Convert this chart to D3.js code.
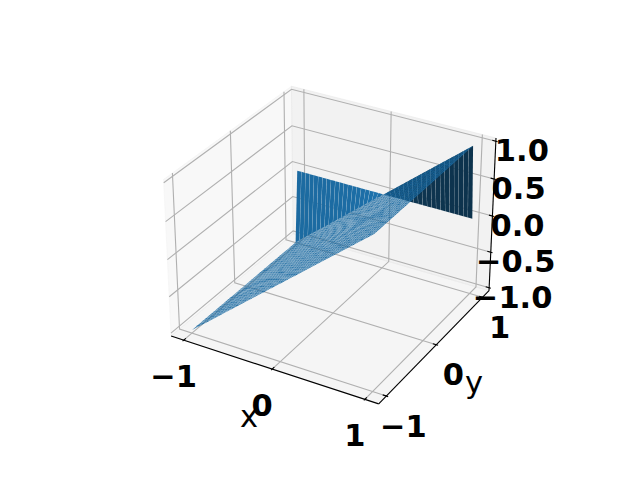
<!DOCTYPE html>
<html><head><meta charset="utf-8">
<script src="https://cdn.jsdelivr.net/npm/d3@7"></script>
<style>html,body{margin:0;padding:0;background:#fff}svg{display:block}text{font-family:"DejaVu Sans"}</style>
</head><body><script>
const xGrid=[-1,-0.95,-0.9,-0.85,-0.8,-0.75,-0.7,-0.65,-0.6,-0.55,-0.5,-0.45,-0.4,-0.35,-0.3,-0.25,-0.2,-0.15,-0.1,-0.05,0,0.05,0.1,0.15,0.2,0.25,0.3,0.35,0.4,0.45,0.5,0.55,0.6,0.65,0.7,0.75,0.8,0.85,0.9,0.95,1];
const yGrid=[-1,-0.95,-0.9,-0.85,-0.8,-0.75,-0.7,-0.65,-0.6,-0.55,-0.5,-0.45,-0.4,-0.35,-0.3,-0.25,-0.2,-0.15,-0.1,-0.05,0,0.05,0.1,0.15,0.2,0.25,0.3,0.35,0.4,0.45,0.5,0.55,0.6,0.65,0.7,0.75,0.8,0.85,0.9,0.95,1];
const zSheet=[-1,-0.95,-0.9,-0.85,-0.8,-0.75,-0.7,-0.65,-0.6,-0.55,-0.5,-0.45,-0.4,-0.35,-0.3,-0.25,-0.2,-0.15,-0.1,-0.05,0,0.05,0.1,0.15,0.2,0.25,0.3,0.35,0.4,0.45,0.5,0.55,0.6,0.65,0.7,0.75,0.8,0.85,0.9,0.95,1];
const zBack=[0,0,0,0,0,0,0,0,0,0,0,0,0,0,0,0,0,0,0,0,0,0,0,0,0,0,0,0,0,0,0,0,0,0,0,0,0,0,0,0,0];
const xTicks=[-1,0,1], yTicks=[-1,0,1], zTicks=[-1,-0.5,0,0.5,1];
const zTickLabels=["\u22121.0","\u22120.5","0.0","0.5","1.0"], xyTickLabels=["\u22121","0","1"];
const limX=[-1.1,1.1], limY=[-1.1,1.1], limZ=[-1,1];

const W=640,H=480;
const svg=d3.select("body").append("svg").attr("width",W).attr("height",H);
const ext=l=>{const d=(l[1]-l[0])/12;return [l[0]-d/4,l[1]+d/4];};
const PX=ext(limX),PY=ext(limY),PZ=ext(limZ);
const norm=Math.hypot(4,4,3),k=1.8294640721620434/norm;
const box=[4*k,4*k,3*k];
const sx=d3.scaleLinear().domain(limX).range([0,box[0]]);
const sy=d3.scaleLinear().domain(limY).range([0,box[1]]);
const sz=d3.scaleLinear().domain(limZ).range([0,box[2]]);
const elev=30*Math.PI/180,azim=-60*Math.PI/180,dist=10;
const R=box.map(b=>b/2);
const dirv=[Math.cos(elev)*Math.cos(azim),Math.cos(elev)*Math.sin(azim),Math.sin(elev)];
const cross=(a,b)=>[a[1]*b[2]-a[2]*b[1],a[2]*b[0]-a[0]*b[2],a[0]*b[1]-a[1]*b[0]];
const dot=(a,b)=>a[0]*b[0]+a[1]*b[1]+a[2]*b[2];
const unit=a=>{const n=Math.hypot(...a);return a.map(v=>v/n);};
const w=dirv,u=unit(cross([0,0,1],w)),v=cross(w,u);
const px=d3.scaleLinear().domain([-0.095,0.09]).range([143.2,512.8]);
const py=d3.scaleLinear().domain([-0.095,0.09]).range([427.2,57.6]);
function proj(x,y,z){
  const p=[sx(x)-R[0],sy(y)-R[1],sz(z)-R[2]];
  const a=dot(p,u),b=dot(p,v),c=dot(p,w);
  const den=dist-c;
  return {x:px(a/den),y:py(b/den),d:c};
}
const line=d3.line().x(d=>d.x).y(d=>d.y);
const pt=a=>proj(a[0],a[1],a[2]);
const poly=(pts)=>line(pts.map(pt))+"Z";

const g=svg.append("g");
g.append("path").attr("d",poly([[PX[0],PY[0],PZ[0]],[PX[0],PY[1],PZ[0]],[PX[0],PY[1],PZ[1]],[PX[0],PY[0],PZ[1]]])).attr("fill","rgb(242,242,242)").attr("fill-opacity",0.5).attr("stroke","rgb(242,242,242)").attr("stroke-opacity",.5);
g.append("path").attr("d",poly([[PX[0],PY[1],PZ[0]],[PX[1],PY[1],PZ[0]],[PX[1],PY[1],PZ[1]],[PX[0],PY[1],PZ[1]]])).attr("fill","rgb(230,230,230)").attr("fill-opacity",0.5).attr("stroke","rgb(230,230,230)").attr("stroke-opacity",.5);
g.append("path").attr("d",poly([[PX[0],PY[0],PZ[0]],[PX[1],PY[0],PZ[0]],[PX[1],PY[1],PZ[0]],[PX[0],PY[1],PZ[0]]])).attr("fill","rgb(236,236,236)").attr("fill-opacity",0.5).attr("stroke","rgb(236,236,236)").attr("stroke-opacity",.5);

const gl=(pts)=>g.append("path").attr("d",line(pts.map(pt))).attr("fill","none").attr("stroke","#b0b0b0").attr("stroke-width",1.11);
xTicks.forEach(t=>gl([[t,PY[0],PZ[0]],[t,PY[1],PZ[0]],[t,PY[1],PZ[1]]]));
yTicks.forEach(t=>gl([[PX[1],t,PZ[0]],[PX[0],t,PZ[0]],[PX[0],t,PZ[1]]]));
zTicks.forEach(t=>gl([[PX[0],PY[0],t],[PX[0],PY[1],t],[PX[1],PY[1],t]]));

const al=(pts)=>g.append("path").attr("d",line(pts.map(pt))).attr("fill","none").attr("stroke","#000").attr("stroke-width",1.11);
al([[PX[0],PY[0],PZ[0]],[PX[1],PY[0],PZ[0]]]);
al([[PX[1],PY[0],PZ[0]],[PX[1],PY[1],PZ[0]]]);
al([[PX[1],PY[1],PZ[0]],[PX[1],PY[1],PZ[1]]]);
const dY=(PY[1]-PY[0])/12,dX=(PX[1]-PX[0])/12;
xTicks.forEach(t=>al([[t,PY[0]+0.2*dY,PZ[0]],[t,PY[0]-0.1*dY,PZ[0]]]));
yTicks.forEach(t=>al([[PX[1]-0.2*dX,t,PZ[0]],[PX[1]+0.1*dX,t,PZ[0]]]));
zTicks.forEach(t=>al([[PX[1]-0.2*dX,PY[1],t],[PX[1]+0.1*dX,PY[1],t]]));

const label=(txt,p,off,size,weight)=>svg.append("text").attr("x",p.x+off[0]).attr("y",p.y+off[1]).attr("text-anchor","middle").attr("dominant-baseline","central").attr("font-size",size).attr("font-weight",weight).attr("fill","#000").text(txt);
const fs=30.5;
const zLabelDx=[23.5,25,25,24.5,26];
xTicks.forEach((t,i)=>label(xyTickLabels[i],proj(t,PY[0],PZ[0]),[-10,36],fs,"bold"));
yTicks.forEach((t,i)=>label(xyTickLabels[i],proj(PX[1],t,PZ[0]),[17,30],fs,"bold"));
zTicks.forEach((t,i)=>label(zTickLabels[i],proj(PX[1],PY[1],t),[zLabelDx[i],9.5],fs,"bold"));
svg.append("text").attr("x",249).attr("y",416).attr("text-anchor","middle").attr("dominant-baseline","central").attr("font-size",30.5).text("x");
svg.append("text").attr("x",474).attr("y",382).attr("text-anchor","middle").attr("dominant-baseline","central").attr("font-size",30.5).text("y");

const L=unit([Math.cos(225*Math.PI/180)*Math.cos(19.47*Math.PI/180),Math.sin(225*Math.PI/180)*Math.cos(19.47*Math.PI/180),Math.sin(19.47*Math.PI/180)]);
const base=d3.rgb("#1f77b4");
const shadeS=d3.scaleLinear().domain([-1,1]).range([0.3,1]);
const seam=0.0012;
const quads=[];
for(let j=0;j<yGrid.length-1;j++)for(let i=0;i<xGrid.length-1;i++){
  const zr0=zSheet, zr1=j+1===yGrid.length-1?zBack:zSheet;
  const q=[[xGrid[i],yGrid[j],zr0[i]],[xGrid[i+1],yGrid[j],zr0[i+1]],[xGrid[i+1],yGrid[j+1],zr1[i+1]],[xGrid[i],yGrid[j+1],zr1[i]]];
  const a=[q[2][0]-q[0][0],q[2][1]-q[0][1],q[2][2]-q[0][2]],b=[q[3][0]-q[1][0],q[3][1]-q[1][1],q[3][2]-q[1][2]];
  const n=unit(cross(a,b));
  const s=shadeS(dot(n,L));
  const inset=q.map(c=>{
    const x=c[0]===xGrid[i]?c[0]+seam:c[0]-seam;
    const y=c[1]===yGrid[j]?c[1]+seam:c[1]-seam;
    return [x,y,c[2]];
  });
  const ps=inset.map(pt);
  quads.push({d:line(ps)+"Z",depth:d3.mean(ps,p=>p.d),fill:d3.rgb(base.r*s,base.g*s,base.b*s).formatHex()});
}
quads.sort((a,b)=>a.depth-b.depth);
svg.append("g").selectAll("path").data(quads).join("path").attr("d",d=>d.d).attr("fill",d=>d.fill);
</script></body></html>
